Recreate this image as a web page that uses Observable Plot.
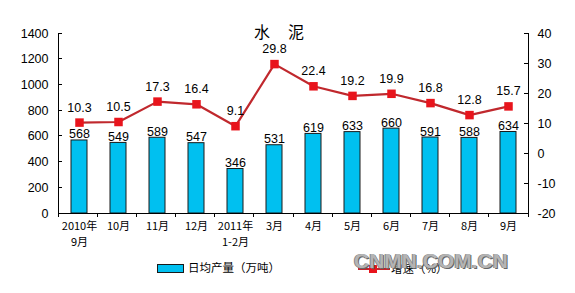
<!DOCTYPE html>
<html>
<head>
<meta charset="utf-8">
<script src="https://cdn.jsdelivr.net/npm/d3@7"></script>
<script src="https://cdn.jsdelivr.net/npm/@observablehq/plot@0.6"></script>
<style>
  body { margin: 0; background: #fff; }
  #wrap { position: relative; width: 575px; height: 293px; background: #fff; overflow: hidden; }
  #title { position: absolute; left: 254px; top: 19px; font: 400 16px "Noto Sans CJK SC", sans-serif; color: #000; white-space: pre; }
  .leg { position: absolute; font: 11.5px "Noto Sans CJK SC", sans-serif; color: #000; white-space: nowrap; }
  #wm { position: absolute; left: 354px; top: 249px; font: bold 21px "Liberation Sans", Arial, sans-serif; color: #b4b4b4; text-shadow: 1px 1px 0 #666, -1px 0 0 #888; }
</style>
</head>
<body>
<div id="wrap">
  <div id="chart"></div>
  <div id="title">水     泥</div>
  <div class="leg" style="left:157px; top:264px; width:25px; height:7px; background:#00c0f0; border:1px solid #1a1a1a;"></div>
  <div class="leg" style="left:188px; top:259px;">日均产量（万吨）</div>
  <div class="leg" style="left:358px; top:268px; width:32px; height:2px; background:#c0282d;"></div>
  <div class="leg" style="left:369px; top:265px; width:8px; height:8px; background:#e8141c;"></div>
  <div class="leg" style="left:391px; top:260px;">增速（%）</div>
  <div id="wm">CNMN.COM.CN</div>
</div>
<script>
const months = ["2010年\n9月","10月","11月","12月","2011年\n1-2月","3月","4月","5月","6月","7月","8月","9月"];
const output = [568,549,589,547,346,531,619,633,660,591,588,634];
const growth = [10.3,10.5,17.3,16.4,9.1,29.8,22.4,19.2,19.9,16.8,12.8,15.7];
const leftTicks = [0,200,400,600,800,1000,1200,1400];
const rightTicks = [-20,-10,0,10,20,30,40];

const rightMin = -20, rightMax = 40, leftMax = 1400;
const toLeft = v => (v - rightMin) / (rightMax - rightMin) * leftMax;
const fromLeft = v => String(Math.round(v / leftMax * (rightMax - rightMin) + rightMin));

const rows = months.map((m, i) => ({m, output: output[i], growth: growth[i]}));

function axesLines(index, scales, values, dimensions) {
  const {width, height, marginLeft, marginRight, marginTop, marginBottom} = dimensions;
  const x0 = marginLeft, x1 = width - marginRight, yb = height - marginBottom;
  const g = d3.create("svg:g").attr("stroke", "#000").attr("stroke-width", 1).attr("shape-rendering", "crispEdges");
  g.append("line").attr("x1", x0).attr("x2", x0).attr("y1", marginTop).attr("y2", yb);
  g.append("line").attr("x1", x1).attr("x2", x1).attr("y1", marginTop).attr("y2", yb);
  g.append("line").attr("x1", x0).attr("x2", x1).attr("y1", yb).attr("y2", yb);
  for (const v of leftTicks) {
    const y = scales.y(v);
    g.append("line").attr("x1", x0).attr("x2", x0 + 4).attr("y1", y).attr("y2", y);
  }
  for (const v of rightTicks) {
    const y = scales.y(toLeft(v));
    g.append("line").attr("x1", x1 - 4).attr("x2", x1).attr("y1", y).attr("y2", y);
  }
  const step = (x1 - x0) / months.length;
  for (let i = 0; i <= months.length; i++) {
    const x = x0 + i * step;
    g.append("line").attr("x1", x).attr("x2", x).attr("y1", yb).attr("y2", yb + 4);
  }
  return g.node();
}

const chart = Plot.plot({
  width: 575,
  height: 255,
  marginLeft: 58,
  marginRight: 47,
  marginTop: 33,
  marginBottom: 42,
  x: {domain: months, paddingInner: 0.59, paddingOuter: 0.295},
  y: {domain: [0, leftMax]},
  style: {fontFamily: "'Liberation Sans', Arial, sans-serif", fontSize: "12px", color: "#000", background: "#fff"},
  marks: [
    Plot.barY(rows, {x: "m", y: "output", fill: "#00c0f0", stroke: "#1a1a1a", strokeWidth: 1}),
    Plot.text(rows, {x: "m", y: "output", text: d => String(d.output), lineAnchor: "bottom", dy: -2, fontSize: 12.5, fill: "#000"}),
    Plot.line(rows, {x: "m", y: d => toLeft(d.growth), stroke: "#c0282d", strokeWidth: 2.2}),
    Plot.dot(rows, {x: "m", y: d => toLeft(d.growth), symbol: "square", r: 4.8, fill: "#e8141c", stroke: "none"}),
    Plot.text(rows, {x: "m", y: d => toLeft(d.growth), text: d => d.growth.toFixed(1), dy: -15, fontSize: 12.5, fill: "#000"}),
    Plot.axisY({anchor: "left", ticks: leftTicks, tickFormat: d => String(d), tickSize: 0, tickPadding: 10, label: null, fontSize: 12.5}),
    Plot.axisY({anchor: "right", ticks: rightTicks.map(toLeft), tickFormat: fromLeft, tickSize: 0, tickPadding: 9, label: null, fontSize: 12.5}),
    Plot.axisX({tickSize: 0, tickPadding: 6, label: null, fontSize: 11, fontFamily: "'Noto Sans CJK SC', sans-serif", lineHeight: 1.4}),
    axesLines
  ]
});
document.getElementById("chart").appendChild(chart);
</script>
</body>
</html>
